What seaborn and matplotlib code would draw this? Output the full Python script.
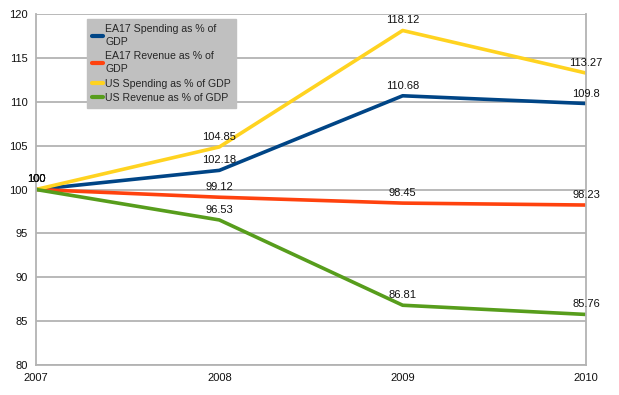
import matplotlib
matplotlib.use("Agg")
import matplotlib.pyplot as plt
import seaborn as sns
import pandas as pd
from matplotlib.lines import Line2D

years = [2007, 2008, 2009, 2010]
series_names = ["EA17 Spending as % of GDP", "EA17 Revenue as % of GDP",
                "US Spending as % of GDP", "US Revenue as % of GDP"]
legend_labels = ["EA17 Spending as % of\nGDP", "EA17 Revenue as % of\nGDP",
                 "US Spending as % of GDP", "US Revenue as % of GDP"]
ea17_spending = [100, 102.18, 110.68, 109.8]
ea17_revenue = [100, 99.12, 98.45, 98.23]
us_spending = [100, 104.85, 118.12, 113.27]
us_revenue = [100, 96.53, 86.81, 85.76]
colors = ["#004586", "#ff420e", "#ffd320", "#579d1c"]

values = [ea17_spending, ea17_revenue, us_spending, us_revenue]
rows = []
for name, vals in zip(series_names, values):
    for y, v in zip(years, vals):
        rows.append({"Year": y, "Value": v, "Series": name})
df = pd.DataFrame(rows)

sns.set_style("white")
plt.rcParams['font.family'] = ['Liberation Sans', 'DejaVu Sans']

fig = plt.figure(figsize=(6.19, 3.95), dpi=100)
ax = fig.add_axes([36 / 619, 30 / 395, 550 / 619, 351 / 395])

sns.lineplot(data=df, x="Year", y="Value", hue="Series", palette=colors,
             hue_order=series_names, linewidth=2.6, ax=ax, legend=False)

for name, vals in zip(series_names, values):
    for y, v in zip(years, vals):
        lbl = f"{v:g}"
        ax.annotate(lbl, (y, v), xytext=(0, 7), textcoords="offset pixels",
                    ha="center", va="baseline", fontsize=8, color="#111111")

ax.set_xlim(2007, 2010)
ax.set_ylim(80, 120)
ax.set_xticks(years)
ax.set_xticklabels([str(y) for y in years])
ax.set_yticks(range(80, 121, 5))
ax.set_xlabel("")
ax.set_ylabel("")
ax.yaxis.grid(True, color="#b3b3b3", linewidth=1.3)
ax.set_axisbelow(True)
for s in ["left", "bottom", "right", "top"]:
    ax.spines[s].set_color("#b3b3b3")
    ax.spines[s].set_linewidth(1.3)
ax.spines["top"].set_visible(False)
ax.tick_params(axis="both", length=4, width=1.3, color="#b3b3b3",
               labelsize=8, labelcolor="#111111", pad=2)

handles = [Line2D([0], [0], color=c, linewidth=3) for c in colors]
leg = ax.legend(handles, legend_labels, loc="upper left",
                bbox_to_anchor=((87 - 36) / 550, (365 - 19) / 351),
                fontsize=7.6, frameon=True,
                fancybox=False, handlelength=1.1, handletextpad=0.2,
                labelspacing=0.4, borderpad=0.45, borderaxespad=0.0)
for t in leg.get_texts():
    t.set_linespacing(1.4)
leg.get_frame().set_facecolor("#c0c0c0")
leg.get_frame().set_edgecolor("#c0c0c0")
leg.get_frame().set_alpha(1)

fig.savefig("out.png", dpi=100)
